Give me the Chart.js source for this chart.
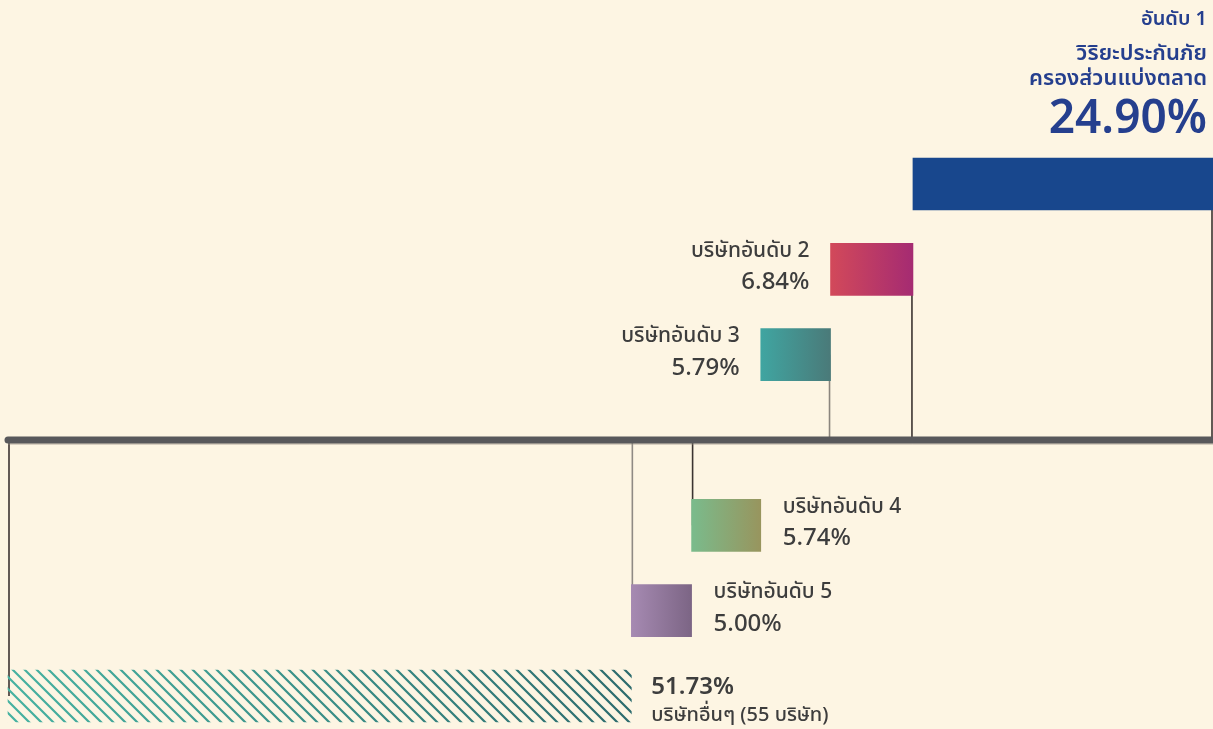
<!DOCTYPE html>
<html>
<head>
<meta charset="utf-8">
<script src="https://cdn.jsdelivr.net/npm/chart.js@4.4.1/dist/chart.umd.min.js"></script>
<style>
    html, body { margin: 0; padding: 0; background: #fdf5e3; }
    #wrap { position: relative; width: 1213px; height: 729px; }
</style>
</head>
<body>
<div id="wrap"><canvas id="share-chart"></canvas></div>
<script>
// rows top to bottom, the empty row is where the baseline sits
const categories = ['อันดับ 1', 'อันดับ 2', 'อันดับ 3', '', 'อันดับ 4', 'อันดับ 5', 'อื่นๆ'];
const shares = [24.90, 6.84, 5.79, null, 5.74, 5.00, 51.73];
const nameLabels = ['วิริยะประกันภัย', 'บริษัทอันดับ 2', 'บริษัทอันดับ 3', '', 'บริษัทอันดับ 4', 'บริษัทอันดับ 5', 'บริษัทอื่นๆ (55 บริษัท)'];
const titleLines = ['อันดับ 1', 'วิริยะประกันภัย', 'ครองส่วนแบ่งตลาด'];

const FONT = "'Noto Sans Thai', 'Noto Sans', sans-serif";
const gradients = [
    ['#18478d', '#18478d'],
    ['#d2495a', '#a52b72'],
    ['#40a5a1', '#4a7a79'],
    null,
    ['#7abb8c', '#98955e'],
    ['#a68ab2', '#7c6585'],
    ['#46b2a1', '#2c6b6d']
];
const connectorColors = ['#3b3331', '#3b3331', '#8b857d', null, '#3b3331', '#8f8a84', '#3b3331'];

// stack the shares from the bottom row upwards: others, 5, 4, 3, 2, 1
const ranges = new Array(shares.length).fill(null);
let acc = 0;
for (let i = shares.length - 1; i >= 0; i--) {
    if (shares[i] === null) continue;
    ranges[i] = [acc, acc + shares[i]];
    acc += shares[i];
}

function fmt(v) {
    return v.toFixed(2) + '%';
}

// hatched fill for the "others" bar
function makeHatch(chart, x0, x1) {
    const c = document.createElement('canvas');
    c.width = chart.width;
    c.height = chart.height;
    const g = c.getContext('2d');
    const grad = g.createLinearGradient(x0, 0, x1, 0);
    grad.addColorStop(0, gradients[6][0]);
    grad.addColorStop(1, gradients[6][1]);
    g.strokeStyle = grad;
    g.lineWidth = 2.2;
    g.beginPath();
    for (let k = -c.height; k < c.width; k += 12) {
        g.moveTo(k, 0);
        g.lineTo(k + c.height, c.height);
    }
    g.stroke();
    return chart.ctx.createPattern(c, 'no-repeat');
}

function barFill(context) {
    const chart = context.chart;
    const i = context.dataIndex;
    if (!chart.chartArea || i === undefined || !ranges[i]) return 'transparent';
    const x0 = chart.scales.x.getPixelForValue(ranges[i][0]);
    const x1 = chart.scales.x.getPixelForValue(ranges[i][1]);
    if (i === 6) return makeHatch(chart, x0, x1);
    const grad = chart.ctx.createLinearGradient(x0, 0, x1, 0);
    grad.addColorStop(0, gradients[i][0]);
    grad.addColorStop(1, gradients[i][1]);
    return grad;
}

// baseline and vertical connectors
const guidePlugin = {
    id: 'guides',
    beforeDatasetsDraw(chart) {
        const ctx = chart.ctx;
        const area = chart.chartArea;
        const baseY = chart.scales.y.getPixelForValue(3);
        const meta = chart.getDatasetMeta(0);
        ctx.save();
        meta.data.forEach((bar, i) => {
            if (!ranges[i]) return;
            const p = bar.getProps(['x', 'base', 'y'], true);
            const upper = i < 3;
            const x = upper ? p.x - 1 : p.base + 1;
            ctx.strokeStyle = connectorColors[i];
            ctx.lineWidth = 1.6;
            ctx.beginPath();
            ctx.moveTo(x, p.y);
            ctx.lineTo(x, baseY);
            ctx.stroke();
        });
        ctx.strokeStyle = 'rgba(150, 140, 128, 0.7)';
        ctx.lineWidth = 1;
        ctx.beginPath();
        ctx.moveTo(area.left, baseY + 4);
        ctx.lineTo(area.right + 5, baseY + 4);
        ctx.stroke();
        ctx.strokeStyle = '#58585b';
        ctx.lineWidth = 7;
        ctx.lineCap = 'round';
        ctx.beginPath();
        ctx.moveTo(area.left, baseY);
        ctx.lineTo(area.right + 5, baseY);
        ctx.stroke();
        ctx.restore();
    }
};

// text next to each bar
const labelPlugin = {
    id: 'barLabels',
    afterDatasetsDraw(chart) {
        const ctx = chart.ctx;
        const area = chart.chartArea;
        const meta = chart.getDatasetMeta(0);
        ctx.save();
        ctx.textBaseline = 'middle';
        meta.data.forEach((bar, i) => {
            if (!ranges[i]) return;
            const p = bar.getProps(['x', 'base', 'y', 'height'], true);
            const top = p.y - p.height / 2;
            if (i === 0) {
                const rx = area.right - 6;
                ctx.fillStyle = '#253f8e';
                ctx.textAlign = 'right';
                ctx.font = `600 20px ${FONT}`;
                ctx.fillText(titleLines[0], rx, top - 137);
                ctx.font = `600 22px ${FONT}`;
                ctx.fillText(titleLines[1], rx, top - 102);
                ctx.fillText(titleLines[2], rx, top - 77);
                ctx.font = `600 46px ${FONT}`;
                ctx.fillText(fmt(shares[0]), rx, top - 34);
                return;
            }
            ctx.fillStyle = '#3d3d3d';
            if (i === 6) {
                const lx = p.x + 20;
                ctx.textAlign = 'left';
                ctx.font = `600 24px ${FONT}`;
                ctx.fillText(fmt(shares[i]), lx, p.y - 7);
                ctx.font = `500 20px ${FONT}`;
                ctx.fillText(nameLabels[i], lx, p.y + 21);
                return;
            }
            const left = i < 3;
            const lx = left ? p.base - 21 : p.x + 22;
            ctx.textAlign = left ? 'right' : 'left';
            ctx.font = `500 21px ${FONT}`;
            ctx.fillText(nameLabels[i], lx, p.y - 17);
            ctx.font = `500 24px ${FONT}`;
            ctx.fillText(fmt(shares[i]), lx, p.y + 15);
        });
        ctx.restore();
    }
};

const chart = new Chart(document.getElementById('share-chart'), {
    type: 'bar',
    data: {
        labels: categories,
        datasets: [{
            data: ranges,
            backgroundColor: barFill,
            borderWidth: 0,
            borderSkipped: false,
            barThickness: 52,
            clip: false
        }]
    },
    options: {
        indexAxis: 'y',
        responsive: true,
        maintainAspectRatio: false,
        animation: false,
        layout: {
            padding: { top: 184, bottom: 33, left: 8, right: 0 }
        },
        scales: {
            x: { type: 'linear', min: 0, max: 100, display: false },
            y: { type: 'category', offset: false, display: false }
        },
        plugins: {
            legend: { display: false },
            tooltip: { enabled: false }
        }
    },
    plugins: [guidePlugin, labelPlugin]
});
</script>
</body>
</html>
